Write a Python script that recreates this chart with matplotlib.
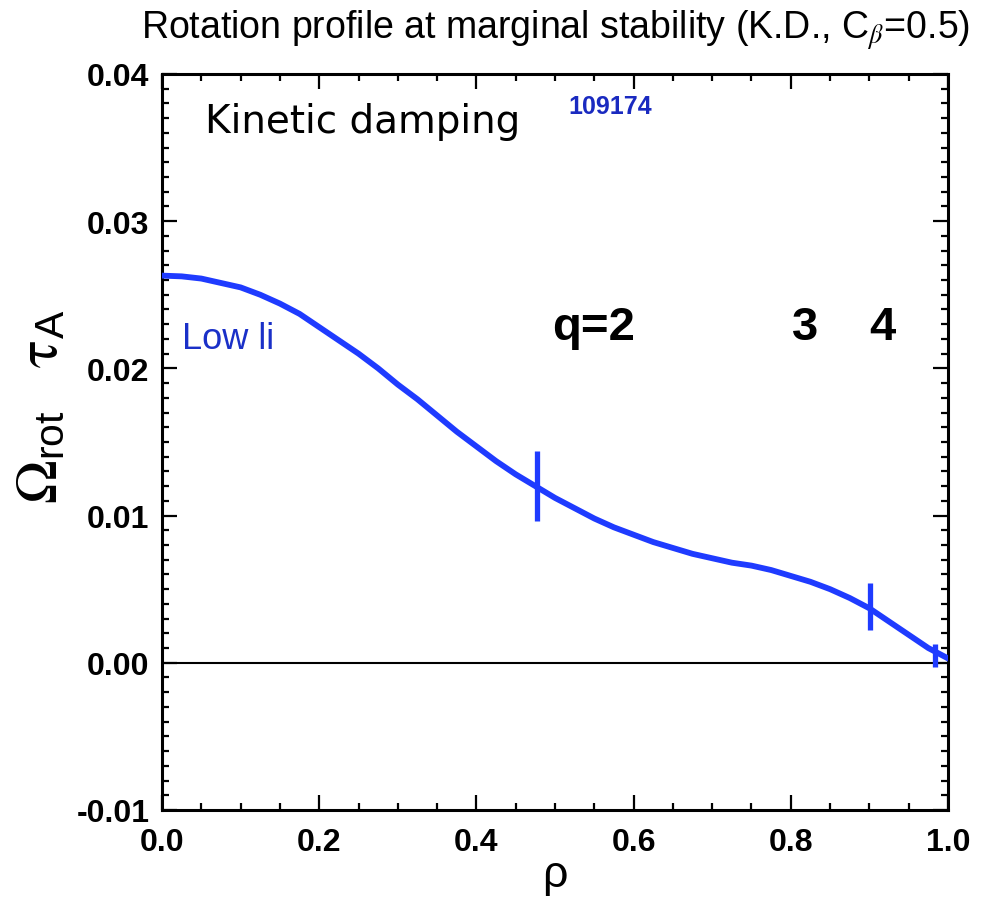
import numpy as np
import matplotlib
matplotlib.use("Agg")
import matplotlib.pyplot as plt
from matplotlib.ticker import MultipleLocator, FormatStrFormatter

# rotation profile
rho = [0.000, 0.025, 0.050, 0.075, 0.100, 0.125, 0.150, 0.175, 0.200, 0.225,
       0.250, 0.275, 0.300, 0.325, 0.350, 0.375, 0.400, 0.425, 0.450, 0.475,
       0.500, 0.525, 0.550, 0.575, 0.600, 0.625, 0.650, 0.675, 0.700, 0.725,
       0.750, 0.775, 0.800, 0.825, 0.850, 0.875, 0.900, 0.925, 0.950, 0.975,
       1.000]
omega_tau = [0.0263, 0.02625, 0.0261, 0.0258, 0.0255, 0.0250, 0.0244, 0.0237,
             0.0228, 0.0219, 0.0210, 0.0200, 0.0189, 0.0179, 0.0168, 0.0157,
             0.0147, 0.0137, 0.0128, 0.0120, 0.0112, 0.0105, 0.0098, 0.0092,
             0.0087, 0.0082, 0.0078, 0.0074, 0.0071, 0.0068, 0.0066, 0.0063,
             0.0059, 0.0055, 0.0050, 0.0044, 0.0037, 0.0028, 0.0019, 0.0010,
             0.0003]

# rational surface markers (q = 2, 3, 4)
q_rho = [0.477, 0.901, 0.984]
q_val = [0.0120, 0.0038, 0.0005]
q_half = [0.0024, 0.0016, 0.0008]

q_labels = ["q=2", "3", "4"]
q_label_x = [0.496, 0.818, 0.917]

blue = "#1f3bff"
sans = ["Liberation Sans", "DejaVu Sans"]

plt.rcParams["font.family"] = sans
plt.rcParams["mathtext.fontset"] = "stix"

fig = plt.figure(figsize=(9.88, 9.03), dpi=100)
ax = fig.add_axes([0.164, 0.1019, 0.7955, 0.8151])

ax.plot(rho, omega_tau, color=blue, lw=4.2, solid_joinstyle="round", zorder=3)
for r, v, h in zip(q_rho, q_val, q_half):
    ax.plot([r, r], [v - h, v + h], color=blue, lw=3.8, solid_capstyle="butt", zorder=3)
ax.axhline(0.0, color="black", lw=1.5, zorder=2)

ax.set_xlim(0.0, 1.0)
ax.set_ylim(-0.01, 0.04)

ax.xaxis.set_major_locator(MultipleLocator(0.2))
ax.xaxis.set_minor_locator(MultipleLocator(0.05))
ax.yaxis.set_major_locator(MultipleLocator(0.01))
ax.yaxis.set_minor_locator(MultipleLocator(0.001))
ax.xaxis.set_major_formatter(FormatStrFormatter("%.1f"))
ax.yaxis.set_major_formatter(FormatStrFormatter("%.2f"))

ax.tick_params(which="both", direction="in", top=True, right=True, width=1.6)
ax.tick_params(which="major", length=10.5)
ax.tick_params(which="minor", length=5)
ax.tick_params(axis="x", pad=12)
ax.tick_params(axis="y", pad=9)
for lab in ax.get_xticklabels() + ax.get_yticklabels():
    lab.set_fontweight("bold")
    lab.set_fontsize(23)
for sp in ax.spines.values():
    sp.set_linewidth(2.2)

ax.set_xlabel("ρ", fontsize=32, labelpad=-2)
ax.set_ylabel(r"$\mathrm{\Omega}_{\mathdefault{rot}}\ \ \ \mathrm{\tau}_{\mathdefault{A}}$",
              fontsize=42)
ax.yaxis.set_label_coords(-0.118, 0.55)

fig.text(0.562, 0.966, r"Rotation profile at marginal stability (K.D., C$_{\beta}$=0.5)",
         fontsize=27, ha="center", va="center")

ax.text(0.055, 0.0368, "Kinetic damping", family="DejaVu Sans", fontsize=28,
        ha="left", va="center")
ax.text(0.57, 0.0378, "109174", fontsize=18, fontweight="bold",
        color="#1a2ac0", ha="center", va="center")
ax.text(0.025, 0.0220, "Low li", fontsize=26, color="#1a30c8",
        ha="left", va="center")

for lab, x in zip(q_labels, q_label_x):
    ha = "left" if lab.startswith("q") else "center"
    ax.text(x, 0.0228, lab, fontsize=34, fontweight="bold", ha=ha, va="center")

fig.savefig("out.png", dpi=100)
